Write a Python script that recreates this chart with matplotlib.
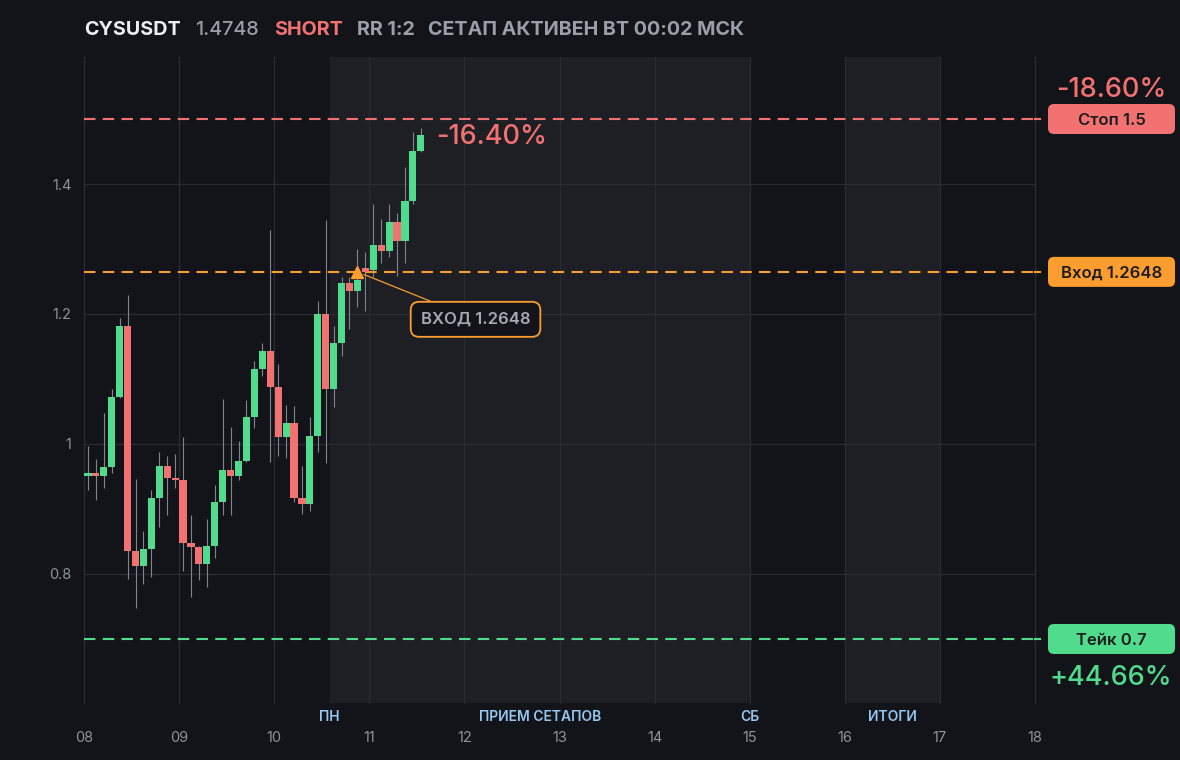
import matplotlib
matplotlib.use("Agg")
import matplotlib.pyplot as plt
from matplotlib.patches import FancyBboxPatch
from matplotlib.transforms import IdentityTransform, blended_transform_factory

plt.rcParams['font.family'] = ['Inter', 'DejaVu Sans']

# ---------------- data ----------------
symbol = "CYSUSDT"
last_price = "1.4748"
side = "SHORT"
rr_text = "RR 1:2"
status_text = "СЕТАП АКТИВЕН ВТ 00:02 МСК"

first_day = 8
bar_hours = 2

opens = [0.950, 0.956, 0.951, 0.965, 1.072, 1.182, 0.836, 0.813, 0.838, 0.917,
         0.966, 0.947, 0.945, 0.848, 0.842, 0.816, 0.843, 0.911, 0.960, 0.950,
         0.974, 1.042, 1.115, 1.143, 1.087, 1.010, 1.032, 0.917, 0.908, 1.012,
         1.200, 1.084, 1.155, 1.248, 1.236, 1.271, 1.267, 1.306, 1.297, 1.342,
         1.313, 1.374, 1.451]
highs = [0.997, 0.977, 1.048, 1.085, 1.194, 1.229, 0.946, 0.866, 0.929, 0.988,
         0.982, 0.985, 1.011, 0.891, 0.843, 0.885, 0.937, 1.069, 1.026, 1.005,
         1.068, 1.128, 1.155, 1.329, 1.123, 1.060, 1.058, 0.966, 1.042, 1.220,
         1.345, 1.182, 1.257, 1.257, 1.300, 1.295, 1.369, 1.346, 1.370, 1.356,
         1.426, 1.480, 1.486]
lows = [0.929, 0.914, 0.932, 0.956, 1.070, 0.792, 0.748, 0.785, 0.796, 0.873,
        0.891, 0.932, 0.805, 0.765, 0.791, 0.780, 0.824, 0.891, 0.891, 0.945,
        0.972, 1.025, 1.104, 0.973, 0.982, 0.979, 0.911, 0.893, 0.897, 0.987,
        0.970, 1.057, 1.136, 1.177, 1.211, 1.205, 1.257, 1.278, 1.288, 1.259,
        1.279, 1.369, 1.449]
closes = [0.956, 0.951, 0.965, 1.072, 1.182, 0.836, 0.813, 0.838, 0.917, 0.966,
          0.947, 0.945, 0.848, 0.842, 0.816, 0.843, 0.911, 0.960, 0.950, 0.974,
          1.042, 1.115, 1.143, 1.087, 1.010, 1.032, 0.917, 0.908, 1.012, 1.200,
          1.084, 1.155, 1.248, 1.236, 1.252, 1.265, 1.306, 1.297, 1.342, 1.313,
          1.374, 1.451, 1.4748]

stop_price = 1.5
entry_price = 1.2648
take_price = 0.7
entry_bar = 34
stop_label = "Стоп 1.5"
entry_label = "Вход 1.2648"
take_label = "Тейк 0.7"
entry_note = "ВХОД 1.2648"
stop_pct = "-18.60%"
take_pct = "+44.66%"
current_pct = "-16.40%"

day_ticks = [8, 9, 10, 11, 12, 13, 14, 15, 16, 17, 18]
day_labels = ["08", "09", "10", "11", "12", "13", "14", "15", "16", "17", "18"]
price_ticks = [0.8, 1.0, 1.2, 1.4]
price_labels = ["0.8", "1", "1.2", "1.4"]

session_spans = [(10 + 14 / 24, 15.0), (16.0, 17.0)]
session_names = ["ПН", "ПРИЕМ СЕТАПОВ", "СБ", "ИТОГИ"]
session_pos = [10 + 14 / 24, (10 + 14 / 24 + 15.0) / 2, 15.0, 16.5]

# ---------------- style ----------------
BG = "#131419"
SHADE = "#1e1f24"
GRID = "#2a2c33"
GREEN = "#50dc8c"
RED = "#f27272"
ORANGE = "#fb9d2f"
WICK = "#80848c"
GRAY = "#9a9ea6"
TICK = "#8e9299"
BLUE = "#96c8f3"

W, H = 1180, 760
fig = plt.figure(figsize=(W / 100, H / 100), dpi=100, facecolor=BG)
ax_left, ax_right, ax_top, ax_bot = 84, 1035, 57, 703
ax = fig.add_axes([ax_left / W, (H - ax_bot) / H, (ax_right - ax_left) / W, (ax_bot - ax_top) / H])
ax.set_facecolor(BG)
ax.set_xlim(8, 18)
ax.set_ylim(0.6015, 1.5954)
for s in ax.spines.values():
    s.set_visible(False)

# session shading
for a, b in session_spans:
    ax.axvspan(a, b, color=SHADE, zorder=0, lw=0)

# grid
for d in day_ticks:
    ax.axvline(d, color=GRID, lw=0.9, zorder=1, clip_on=False)
for p in price_ticks:
    ax.axhline(p, color=GRID, lw=0.9, zorder=1)

ax.set_xticks(day_ticks)
ax.set_xticklabels(day_labels)
ax.set_yticks(price_ticks)
ax.set_yticklabels(price_labels)
ax.tick_params(axis='x', length=0, pad=20, labelsize=10.5, labelcolor=TICK)
ax.tick_params(axis='y', length=0, pad=9, labelsize=10.5, labelcolor=TICK)

# session labels
tr = blended_transform_factory(ax.transData, ax.transAxes)
for name, xp in zip(session_names, session_pos):
    ax.text(xp, -0.0217, name, transform=tr, ha='center', va='center',
            fontsize=10, fontweight='semibold', color=BLUE, clip_on=False)

# candles
bw = bar_hours / 24
xs = [first_day + (i * bar_hours + bar_hours / 2) / 24 for i in range(len(opens))]
ax.vlines(xs, lows, highs, color=WICK, lw=0.8, zorder=2)
bottoms = [min(o, c) for o, c in zip(opens, closes)]
heights = [max(abs(c - o), 0.002) for o, c in zip(opens, closes)]
cols = [GREEN if c >= o else RED for o, c in zip(opens, closes)]
ax.bar(xs, heights, bottom=bottoms, width=bw * 0.9, color=cols, zorder=3, lw=0)

# level lines
for price, col in [(stop_price, RED), (entry_price, ORANGE), (take_price, GREEN)]:
    ax.axhline(price, color=col, lw=1.5, dashes=(5.5, 3.5), zorder=2.5)
    ax.plot([18, 18.05], [price, price], color=col, lw=1.5, clip_on=False, zorder=2.5)

# entry marker + note
ex = xs[entry_bar]
ax.plot([ex], [entry_price], marker='^', ms=8.5, color=ORANGE, zorder=5, lw=0)
ax.annotate(entry_note, xy=(ex, entry_price), xytext=(12.117, 1.1918),
            ha='center', va='center', fontsize=12, fontweight='semibold', color="#a6aab2",
            bbox=dict(boxstyle="round,pad=0.6,rounding_size=0.5", fc=BG, ec=ORANGE, lw=1.3),
            arrowprops=dict(arrowstyle='-', color=ORANGE, lw=0.9, shrinkA=0, shrinkB=5),
            zorder=6)

# current pct text
ax.text(8 + (436.0 - 84) / 95.1, (1094 - 136.5) / 650, current_pct, ha='left', va='center',
        fontsize=19.5, fontweight='medium', color=RED, zorder=6)

# right side price tags (pixel coordinates)
fig.canvas.draw()
ident = IdentityTransform()
bx0, bwid, bh = 1048, 127, 30
for price, col, lab in [(stop_price, RED, stop_label), (entry_price, ORANGE, entry_label),
                        (take_price, GREEN, take_label)]:
    yc = ax.transData.transform((8, price))[1]
    patch = FancyBboxPatch((bx0, yc - bh / 2), bwid, bh,
                           boxstyle="round,pad=0,rounding_size=6",
                           transform=ident, fc=col, ec='none')
    fig.add_artist(patch)
    fig.text((bx0 + bwid / 2) / W, (yc - 6) / H, lab, ha='center', va='baseline',
             fontsize=12, fontweight='semibold', color="#1b1c1f")

ys = ax.transData.transform((8, stop_price))[1]
fig.text(1111 / W, (ys + 22) / H, stop_pct, ha='center', va='baseline', fontsize=19.5,
         fontweight='medium', color=RED)
yt = ax.transData.transform((8, take_price))[1]
fig.text(1111 / W, (yt - 46) / H, take_pct, ha='center', va='baseline', fontsize=19.5,
         fontweight='medium', color=GREEN)

# header
base = (H - 35) / H
hs = 14.2
fig.text(84 / W, base, symbol, fontsize=hs, fontweight='bold', color="#eceef1", va='baseline')
fig.text(195 / W, base, last_price, fontsize=hs, fontweight='medium', color=GRAY, va='baseline')
fig.text(274 / W, base, side, fontsize=hs, fontweight='bold', color=RED, va='baseline')
fig.text(357 / W, base, rr_text, fontsize=hs, fontweight='bold', color=GRAY, va='baseline')
fig.text(428 / W, base, status_text, fontsize=hs, fontweight='bold', color=GRAY, va='baseline')

fig.savefig("out.png", dpi=100, facecolor=BG)
